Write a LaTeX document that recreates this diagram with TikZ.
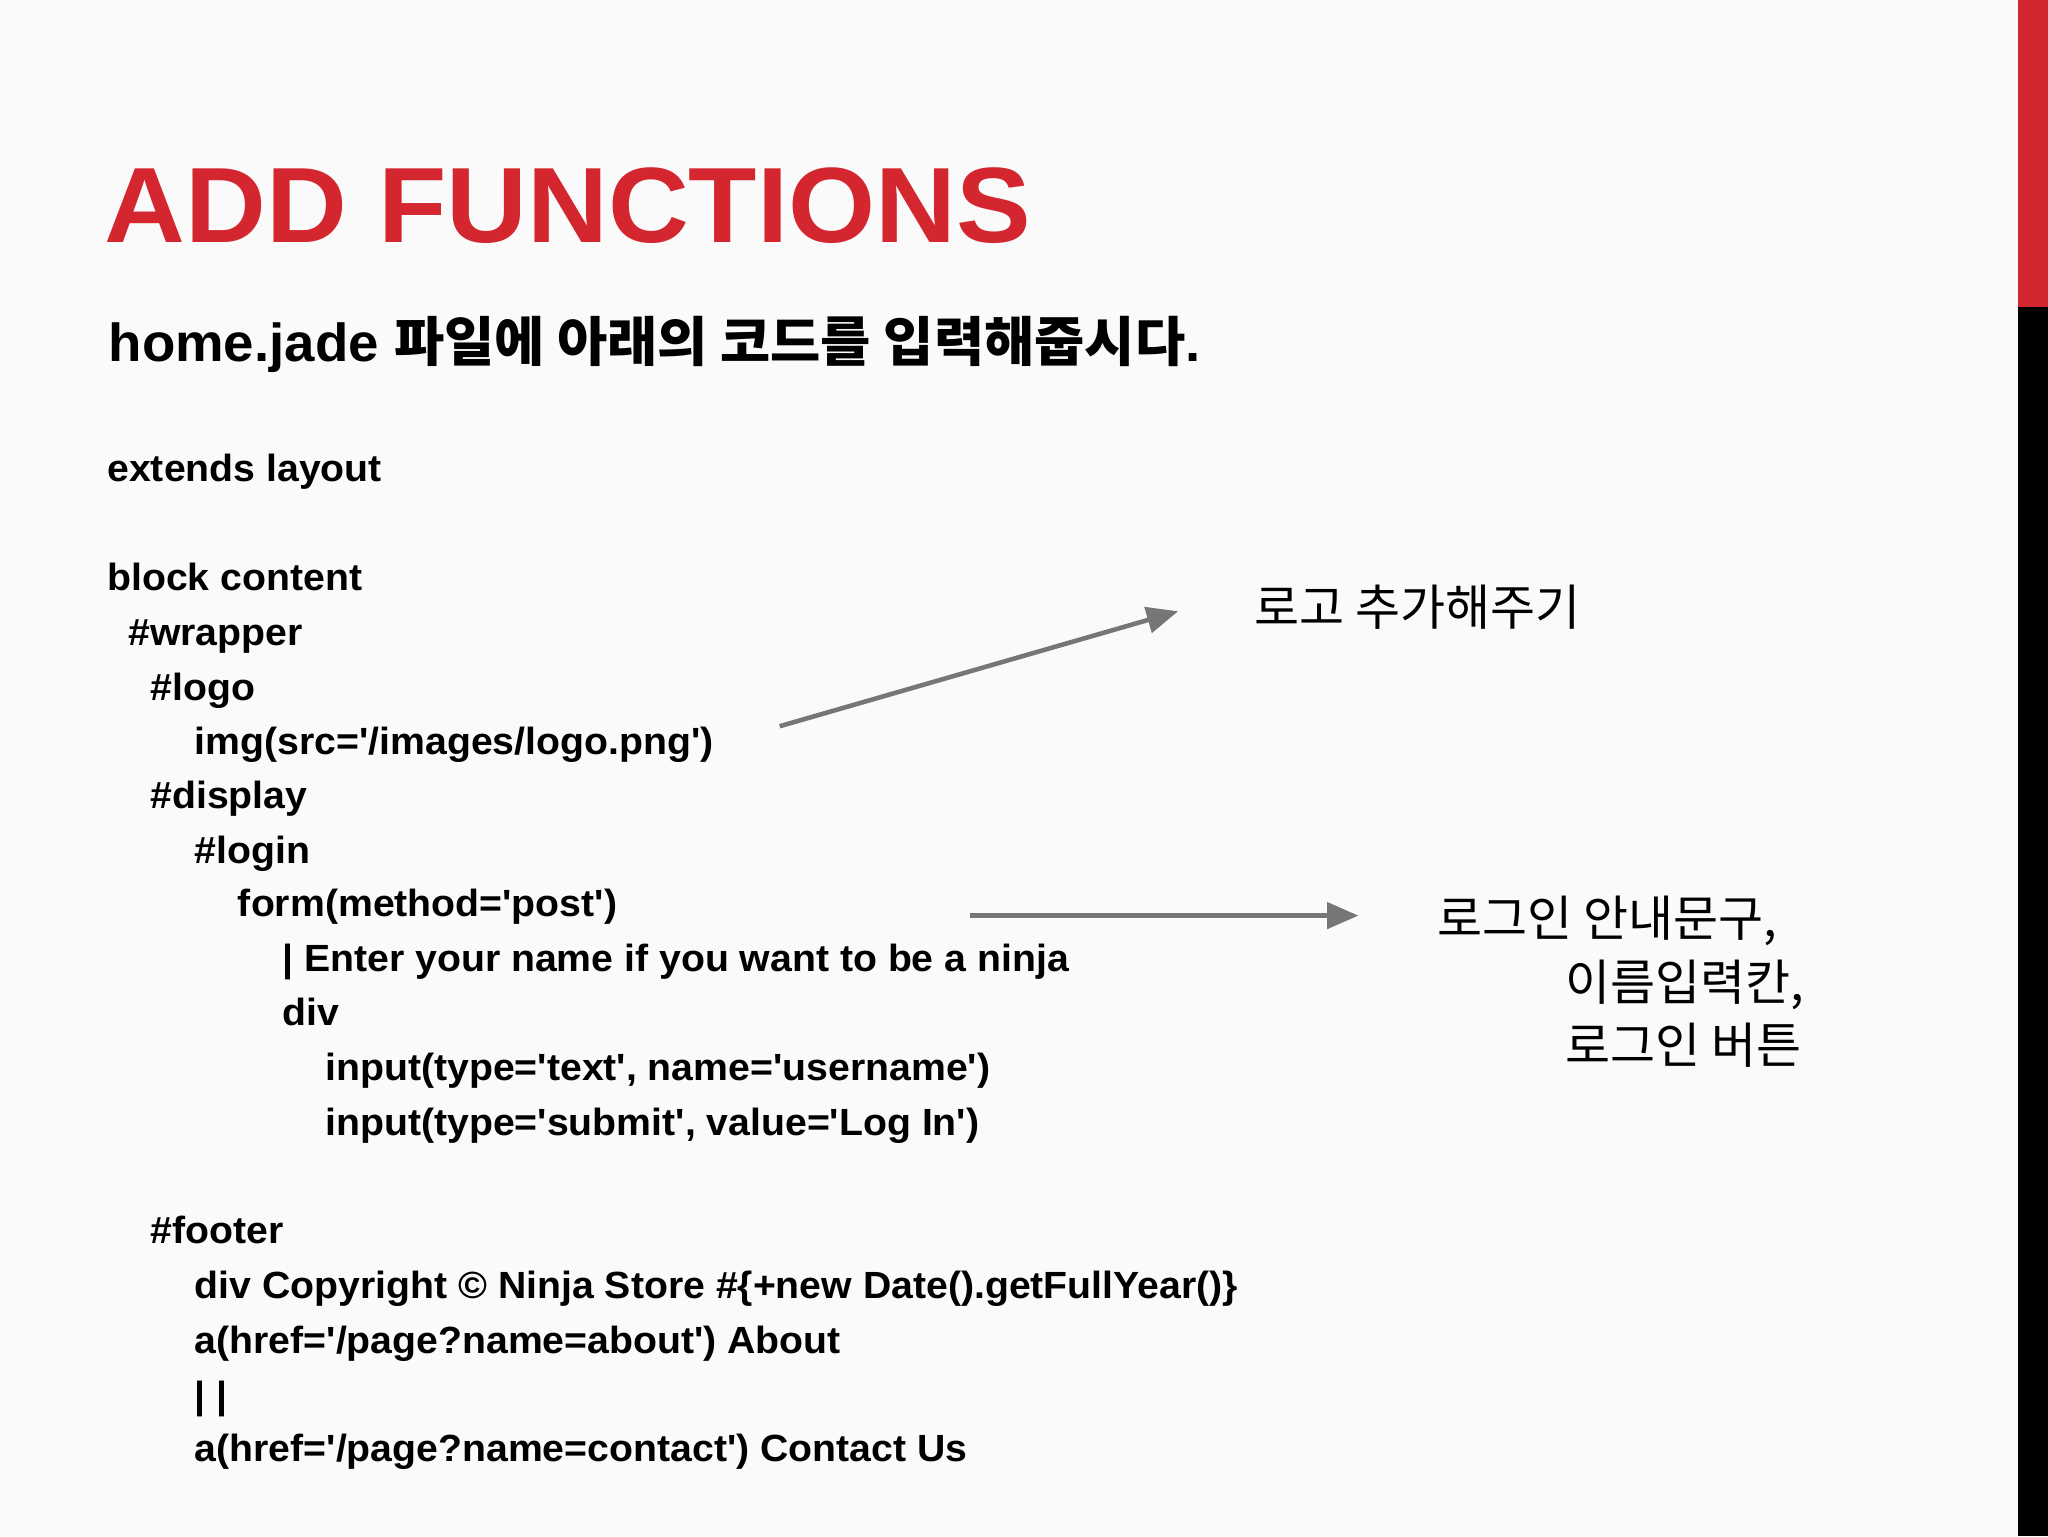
\documentclass[tikz,border=0pt]{standalone}
\usepackage{fontspec}
\setmainfont{Liberation Sans}
\newfontfamily\kr{Noto Sans CJK KR}
\usetikzlibrary{arrows.meta}
\definecolor{ttred}{HTML}{D3262F}
\definecolor{argray}{HTML}{767676}
\newcommand\qq{\textquotesingle}
\tikzset{
 code/.style={anchor=base west,inner sep=0pt,font=\fontsize{29}{32}\selectfont\bfseries,xscale=1.035},
 lbl/.style={anchor=base west,inner sep=0pt,font=\fontsize{37.5}{40}\selectfont\kr},
 arr/.style={draw=argray,line width=3.5pt,-{Triangle[length=24pt,width=20pt]}}
}
\begin{document}
\begin{tikzpicture}[x=1pt,y=-1pt]
\fill[white!98!black] (0,0) rectangle (1568,1176);
\useasboundingbox (0,0) rectangle (1568,1176);
\fill[ttred] (1545,0) rectangle (1568,235);
\fill[black] (1545,235) rectangle (1568,1176);
\node[anchor=base west,inner sep=0pt,text=ttred,font=\fontsize{82}{90}\selectfont\bfseries,xscale=1.045] (title) at (80,186) {ADD FUNCTIONS};
\node[anchor=base west,inner sep=0pt,font=\fontsize{41}{46}\selectfont\bfseries,xscale=1.02] (sub) at (83,277) {home.jade {\kr\bfseries 파일에 아래의 코드를 입력해줍시다}.};
\node[code] (c1) at (82,369) {extends layout};
\node[code] (c2) at (82,452) {block content};
\node[code] (c3) at (98,494) {\#wrapper};
\node[code] (c4) at (115,536) {\#logo};
\node[code] (c5) at (149,578) {img(src=\qq/images/logo.png\qq)};
\node[code] (c6) at (115,619) {\#display};
\node[code] (c7) at (149,661) {\#login};
\node[code] (c8) at (182,702) {form(method=\qq post\qq)};
\node[code] (c9) at (216,744) {| Enter your name if you want to be a ninja};
\node[code] (c10) at (216,785) {div};
\node[code] (c11) at (249,827) {input(type=\qq text\qq, name=\qq username\qq)};
\node[code] (c12) at (249,869) {input(type=\qq submit\qq, value=\qq Log In\qq)};
\node[code] (c13) at (115,952) {\#footer};
\node[code] (c14) at (149,994) {div Copyright © Ninja Store \#\{+new Date().getFullYear()\}};
\node[code] (c15) at (149,1036) {a(href=\qq/page?name=about\qq) About};
\node[code] (c16) at (149,1078) {| |};
\node[code] (c17) at (149,1119) {a(href=\qq/page?name=contact\qq) Contact Us};
\node[lbl] (l1) at (960,479) {로고 추가해주기};
\node[lbl] (l2) at (1100,717) {로그인 안내문구,};
\node[lbl] (l3) at (1198,766) {이름입력칸,};
\node[lbl] (l4) at (1198,814) {로그인 버튼};
\coordinate (a1s) at (597,556);
\coordinate (a1e) at (902,468);
\coordinate (a2s) at (743,701);
\coordinate (a2e) at (1040,701);
\draw[arr] (a1s) -- (a1e);
\draw[arr] (a2s) -- (a2e);
\end{tikzpicture}
\end{document}
